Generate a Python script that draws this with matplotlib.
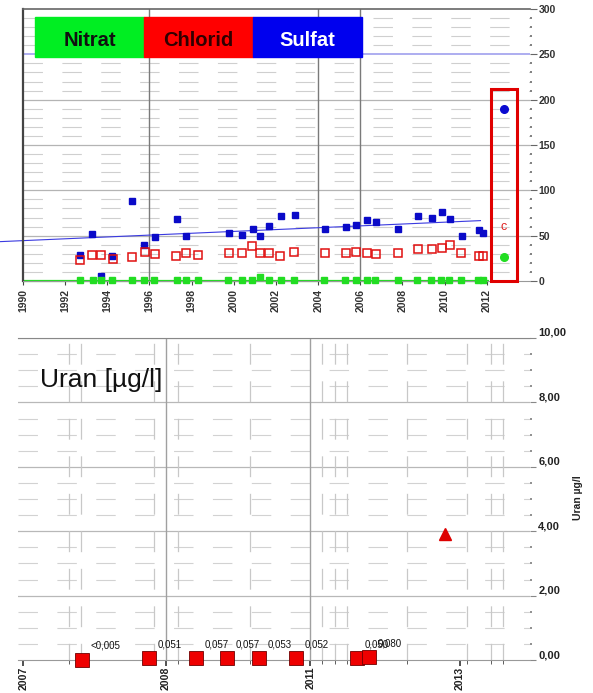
import matplotlib
matplotlib.use('Agg')
import numpy as np
import matplotlib.pyplot as plt
from matplotlib.patches import Rectangle

plt.rcParams['font.family'] = ['Liberation Sans', 'DejaVu Sans']
plt.rcParams['lines.scale_dashes'] = False

# --- top chart: Nitrat / Chlorid / Sulfat (mg/l) ---
sulfat_years = [1992.70, 1993.29, 1993.70, 1994.21, 1995.16, 1995.75, 1996.24, 1997.31, 1997.75,
                1999.76, 2000.39, 2000.90, 2001.26, 2001.69, 2002.25, 2002.88, 2004.31, 2005.30,
                2005.81, 2006.34, 2006.73, 2007.81, 2008.74, 2009.39, 2009.86, 2010.24, 2010.82,
                2011.64, 2011.84]
sulfat_vals = [28.7, 51.9, 5.9, 27.3, 88.7, 40.1, 48.3, 68.5, 50.1,
               52.7, 50.8, 57.5, 50.1, 60.8, 71.5, 73.3, 57.1, 59.1,
               62.2, 67.1, 65.5, 57.5, 71.6, 69.9, 76.5, 68.5, 49.5,
               56.1, 53.3]

chlorid_years = [1992.70, 1993.28, 1993.69, 1994.28, 1995.16, 1995.77, 1996.24, 1997.27, 1997.75,
                 1998.28, 1999.76, 2000.39, 2000.87, 2001.26, 2001.69, 2002.21, 2002.85, 2004.32,
                 2005.30, 2005.78, 2006.34, 2006.73, 2007.81, 2008.74, 2009.39, 2009.87, 2010.26,
                 2010.77, 2011.63, 2011.84]
chlorid_vals = [23.2, 28.7, 28.7, 24.3, 26.2, 32.4, 29.8, 27.6, 31.3,
                28.4, 30.6, 31.3, 38.7, 30.6, 30.6, 27.6, 32.4, 31.3,
                30.6, 32.4, 31.3, 29.8, 30.6, 35.4, 35.4, 36.1, 39.4,
                30.6, 27.6, 27.6]

nitrat_years = [1992.70, 1993.30, 1993.72, 1994.22, 1995.17, 1995.74, 1996.23, 1997.31, 1997.73,
                1998.30, 1999.74, 2000.37, 2000.88, 2001.24, 2001.67, 2002.22, 2002.86, 2004.28,
                2005.27, 2005.78, 2006.32, 2006.70, 2007.78, 2008.71, 2009.36, 2009.83, 2010.20,
                2010.78, 2011.60, 2011.81]
nitrat_vals = [1, 1, 1, 1, 1, 1, 1, 1, 1,
               1, 1, 1, 1, 4, 1, 1, 1, 1,
               1, 1, 1, 1, 1, 1, 1, 1, 1,
               1, 1, 1]

trend_years = [1988.9, 2011.7]
trend_vals = [43.4, 66.6]
sulfat_limit = 250
latest_year = 2012.82
latest_sulfat = 190
latest_chlorid = 60
latest_nitrat = 26

legend_names = ['Nitrat', 'Chlorid', 'Sulfat']
legend_colors = ['#00ee22', '#ff0000', '#0000ee']
legend_text_colors = ['#101010', '#300000', '#ffffff']

# --- bottom chart: Uran (µg/l) ---
uran_years = [2006.26, 2007.66, 2008.63, 2009.28, 2009.93, 2010.71, 2011.96, 2012.22]
uran_vals = [0.005, 0.051, 0.057, 0.057, 0.053, 0.052, 0.050, 0.080]
uran_labels = ['<0,005', '0,051', '0,057', '0,057', '0,053', '0,052', '0,050', '0,080']
uran_high_years = [2013.79]
uran_high_vals = [3.9]
uran_tick_years = [2005.05, 2008, 2011, 2014.1]
uran_tick_labels = ['2007', '2008', '2011', '2013']
uran_minor_years = [2006.0, 2006.25, 2007.75, 2008.25, 2009.75, 2011.25, 2011.5, 2011.75,
                    2013.0, 2014.25, 2014.75, 2015.0]
uran_yticks = [0, 2, 4, 6, 8, 10]

fig = plt.figure(figsize=(5.93, 6.93), dpi=100)

# ================= top chart =================
ax = fig.add_axes([23 / 593, 1 - 281 / 693, 507 / 593, 272 / 693])
ax.set_xlim(1990, 2014.05)
ax.set_ylim(0, 300)

dash = (0, (14, 14))
for v in np.arange(10, 300, 10):
    if v % 50:
        ax.axhline(v, color='#cfcfcf', lw=0.8, ls=dash, zorder=0)
for v in [50, 100, 150, 200]:
    ax.axhline(v, color='#b4b4b4', lw=0.9, zorder=0)
for yr in [1996, 2004, 2006]:
    ax.axvline(yr, color='#7a7a7a', lw=1.0, zorder=1)
ax.axhline(sulfat_limit, color='#9f9fee', lw=1.2, zorder=1)

ax.hlines(0, 1990, nitrat_years[-1] + 0.3, color='#22dd22', lw=1.6, zorder=2, clip_on=False)
ax.plot(trend_years, trend_vals, color='#3a3ae0', lw=0.8, zorder=2, clip_on=False)

ax.plot(sulfat_years, sulfat_vals, 's', color='#0a0ac8', ms=5, mec='#0a0ac8', zorder=4)
ax.plot(chlorid_years, chlorid_vals, 's', mfc='none', mec='#e01010', mew=1.1, ms=6, zorder=4)
ax.plot(nitrat_years, nitrat_vals, 's', color='#22dd22', ms=5, zorder=4, clip_on=False)

# latest values highlighted in red frame
ax.add_patch(Rectangle((latest_year - 0.6, 0), 1.22, latest_sulfat + 22, fill=False,
                       ec='#e00000', lw=2.2, zorder=5, clip_on=False))
ax.plot([latest_year], [latest_sulfat], 'o', color='#0a0ad0', ms=5.5, zorder=6)
ax.text(latest_year, latest_chlorid, 'c', color='#e02020', fontsize=9, ha='center',
        va='center', zorder=6)
ax.plot([latest_year], [latest_nitrat], 'o', color='#22dd22', ms=5.5, zorder=6)

# legend boxes
box_w = 109 / 507
for i, (name, col, tcol) in enumerate(zip(legend_names, legend_colors, legend_text_colors)):
    x0 = 12 / 507 + i * box_w
    ax.add_patch(Rectangle((x0, 224 / 272), box_w, 40 / 272, transform=ax.transAxes,
                           color=col, zorder=7, clip_on=False))
    ax.text(x0 + box_w / 2, 240.5 / 272, name, transform=ax.transAxes, ha='center', va='center',
            fontsize=14.5, fontweight='bold', color=tcol, zorder=8)

ax.set_xticks(np.arange(1990, 2013, 2))
ax.set_xticklabels([str(y) for y in range(1990, 2013, 2)], rotation=90, fontsize=7.5,
                   fontweight='bold', color='#333333')
ax.tick_params(axis='x', length=3, color='#444444', pad=3)
ax.yaxis.tick_right()
ax.set_yticks(np.arange(0, 301, 50))
ax.set_yticklabels([str(v) for v in range(0, 301, 50)], fontsize=7.5, fontweight='bold',
                   color='#333333')
ax.set_yticks(np.arange(0, 301, 10), minor=True)
ax.tick_params(axis='y', which='major', length=5, color='#666666', pad=1)
ax.tick_params(axis='y', which='minor', length=1.5, width=1.3, color='#777777')
ax.spines['right'].set_visible(False)
ax.spines['left'].set_color('#444444')
ax.spines['left'].set_linewidth(1.6)
ax.spines['top'].set_color('#666666')
ax.spines['top'].set_linewidth(1.2)
ax.spines['bottom'].set_color('#999999')

# ================= bottom chart =================
ax2 = fig.add_axes([18 / 593, 1 - 660 / 693, 512 / 593, 322 / 693])
ax2.set_xlim(2004.94, 2015.55)
ax2.set_ylim(0, 10)

for v in np.arange(0.5, 10, 0.5):
    if v % 2:
        ax2.axhline(v, color='#d2d2d2', lw=0.8, ls=dash, zorder=0)
for v in [2, 4, 6, 8, 10]:
    ax2.axhline(v, color='#b8b8b8', lw=0.9, zorder=0)
for yr in uran_minor_years:
    ax2.axvline(yr, color='#c8c8c8', lw=0.9, ls=(3, (15, 12)), zorder=0)
for yr in [2008, 2011]:
    ax2.axvline(yr, color='#a0a0a0', lw=1.0, zorder=1)

ax2.plot(uran_years, uran_vals, 's', color='#ee0000', mec='#700000', mew=0.6, ms=10,
         zorder=4, clip_on=False)
ax2.plot(uran_high_years, uran_high_vals, '^', color='#dd0000', ms=9, zorder=4)
for yr, v, lab in zip(uran_years, uran_vals, uran_labels):
    ax2.annotate(lab, (yr, v), xytext=(6, 10), textcoords='offset points', ha='left',
                 va='center', fontsize=7, color='#111111', zorder=5)

ax2.text(22 / 512, 0.87, 'Uran [µg/l]', transform=ax2.transAxes, fontsize=19,
         ha='left', va='center', color='#111111')

ax2.set_xticks(uran_tick_years)
ax2.set_xticklabels(uran_tick_labels, rotation=90, fontsize=7.6, fontweight='bold',
                    color='#222222')
ax2.set_xticks(uran_minor_years, minor=True)
ax2.tick_params(axis='x', which='major', length=4, width=1.2, color='#333333', pad=1)
ax2.tick_params(axis='x', which='minor', length=3, color='#444444')
ax2.yaxis.tick_right()
ax2.set_yticks(uran_yticks)
ax2.set_yticklabels([('%.2f' % v).replace('.', ',') for v in uran_yticks],
                    fontsize=8, fontweight='bold', color='#222222', va='bottom')
ax2.set_yticks(np.arange(0, 10.1, 0.5), minor=True)
ax2.tick_params(axis='y', which='major', length=4, color='#888888', pad=2)
ax2.tick_params(axis='y', which='minor', length=1.5, width=1.3, color='#888888')
for s in ['left', 'right']:
    ax2.spines[s].set_visible(False)
ax2.spines['top'].set_color('#888888')
ax2.spines['bottom'].set_color('#999999')

fig.text(578 / 593, 1 - 498 / 693, 'Uran µg/l', rotation=90, ha='center', va='center',
         fontsize=7.5, fontweight='bold', color='#222222')

fig.savefig('out.png', dpi=100)
